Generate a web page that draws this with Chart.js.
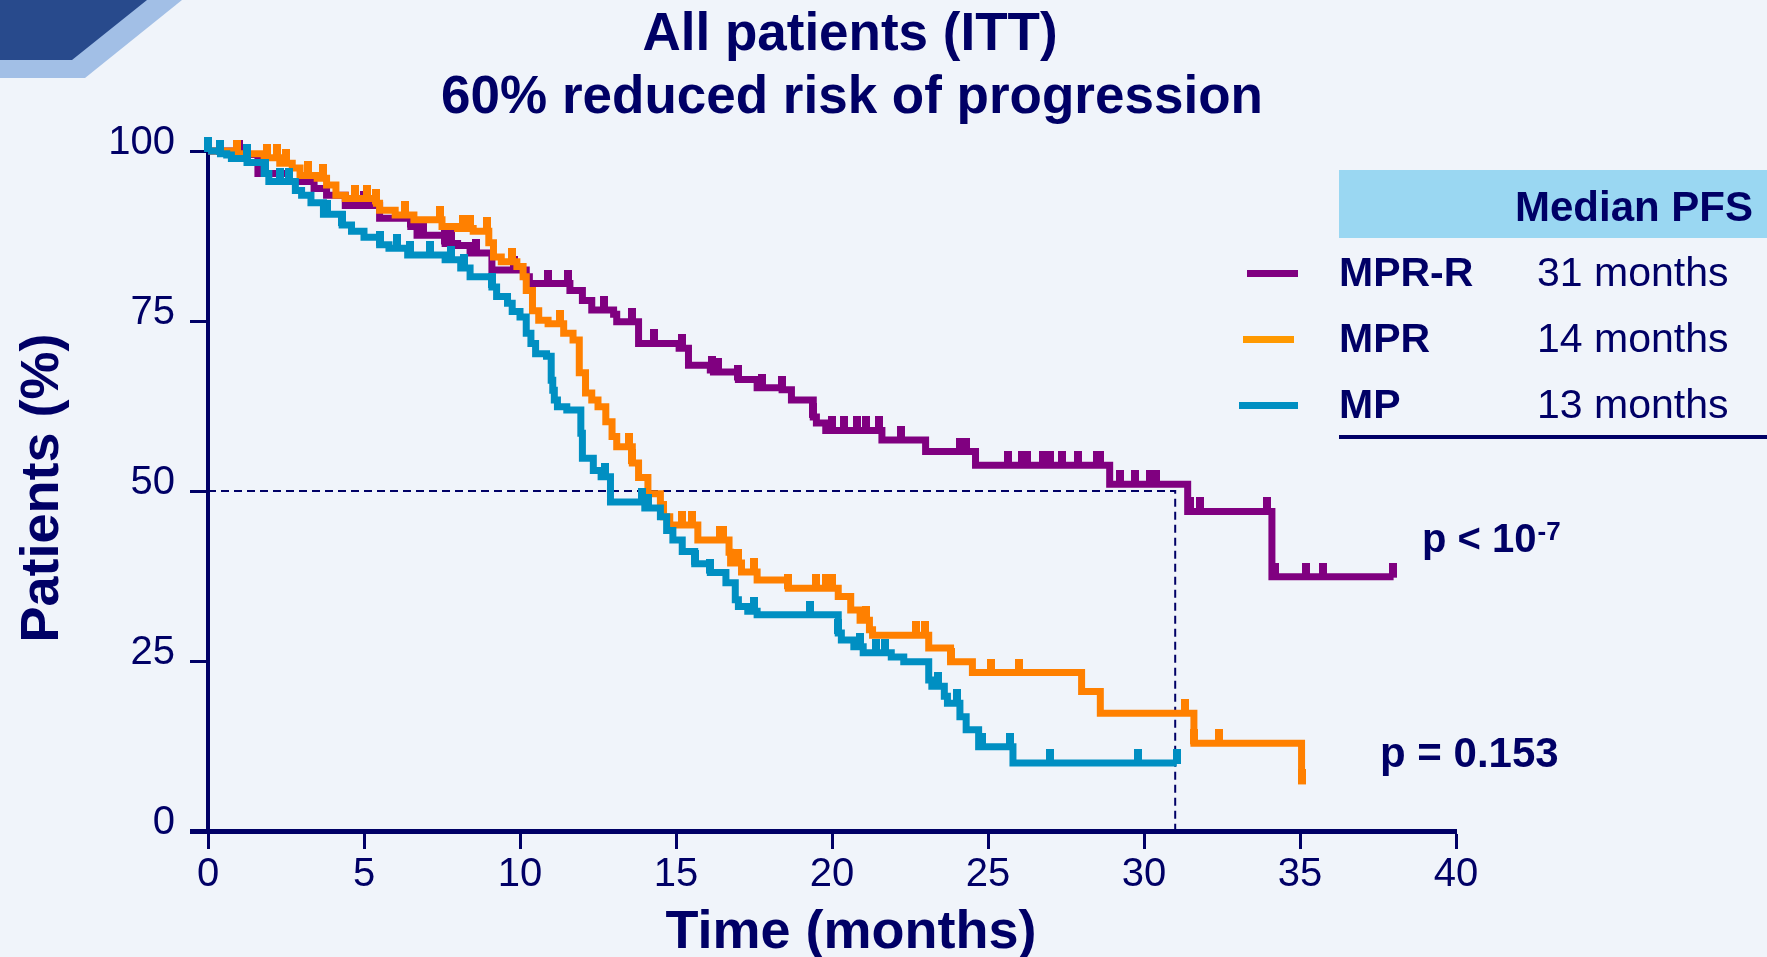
<!DOCTYPE html>
<html>
<head>
<meta charset="utf-8">
<script src="https://cdn.jsdelivr.net/npm/chart.js@4"></script>
<style>
html,body{margin:0;padding:0;background:#f0f4fa;}
#wrap{position:relative;width:1767px;height:957px;overflow:hidden;}
canvas{display:block;}
</style>
</head>
<body>
<div id="wrap"><canvas id="c" width="1767" height="957"></canvas></div>
<script>
// ---------------- DATA ----------------
const titleLines = ['All patients (ITT)', '60% reduced risk of progression'];
const xAxisTitle = 'Time (months)';
const yAxisTitle = 'Patients (%)';
const xTickValues = [0, 5, 10, 15, 20, 25, 30, 35, 40];
const yTickValues = [0, 25, 50, 75, 100];

const seriesNames = ['MPR-R', 'MPR', 'MP'];
const medianMonths = [31, 14, 13];
const legendHeader = 'Median PFS';
const pBase = ['p < 10', 'p = 0.153'];
const pSup = ['-7', ''];

// MPR-R (purple)
const mprrTimes = [0, 1.0, 1.6, 2.6, 3.4, 3.8, 4.4, 5.5, 6.5, 6.7, 7.6, 8.0, 8.4, 9.1, 10.2, 10.3, 11.6, 12.0, 12.3, 13.0, 13.1, 13.8, 15.1, 15.4, 16.1, 16.2, 17.0, 17.6, 18.4, 18.7, 19.4, 19.5, 19.8, 21.6, 23.0, 24.6, 28.9, 31.4, 34.1, 38.0];
const mprrSurv  = [100, 99.5, 96.7, 95.5, 94.5, 93.5, 92.0, 90.1, 88.9, 87.6, 86.4, 86.1, 85.0, 82.5, 81.5, 80.5, 79.5, 78.0, 76.6, 76.0, 74.9, 71.7, 71.0, 68.5, 67.8, 67.5, 66.4, 65.2, 64.9, 63.4, 60.9, 60.0, 58.9, 57.5, 55.8, 53.8, 51.0, 47.0, 37.4, 37.4];
const mprrCensor = [1.0, 5.0, 6.5, 6.9, 7.6, 7.8, 8.6, 9.8, 10.9, 11.55, 12.7, 13.6, 14.3, 15.2, 16.15, 16.35, 17.0, 17.75, 18.4, 19.4, 20.0, 20.4, 20.8, 21.1, 21.5, 22.2, 24.1, 24.3, 25.65, 26.08, 26.24, 26.77, 26.99, 27.36, 27.9, 28.48, 28.59, 29.23, 29.71, 30.19, 30.4, 31.47, 31.79, 33.93, 34.2, 35.2, 35.75, 37.99];

// MPR (orange)
const mprTimes = [0, 0.9, 1.8, 2.3, 2.7, 2.95, 3.5, 3.8, 4.1, 4.4, 5.4, 5.5, 6.0, 6.6, 7.5, 8.0, 8.5, 9.0, 9.15, 9.4, 9.9, 10.1, 10.2, 10.4, 10.6, 10.9, 11.4, 11.7, 11.9, 12.1, 12.3, 12.5, 12.75, 12.95, 13.1, 13.6, 13.8, 14.1, 14.5, 14.6, 14.8, 15.7, 16.7, 16.75, 17.1, 17.6, 18.6, 20.2, 20.6, 20.9, 21.2, 21.3, 23.1, 23.8, 24.5, 28.0, 28.6, 31.6, 35.05];
const mprSurv  = [100, 99.6, 99.0, 98.2, 97.5, 96.4, 96.0, 95.0, 93.5, 93.0, 92.3, 91.3, 90.6, 89.9, 88.9, 88.6, 88.2, 86.5, 84.4, 83.7, 83.0, 81.5, 79.5, 76.5, 75.1, 74.6, 73.2, 72.2, 67.4, 64.4, 63.4, 62.4, 60.2, 58.0, 56.5, 54.1, 52.0, 49.6, 48.0, 46.2, 45.0, 42.8, 41.0, 39.4, 38.1, 36.9, 35.7, 34.5, 32.5, 31.0, 29.6, 28.8, 26.9, 24.9, 23.3, 20.5, 17.3, 12.9, 7.0];
const mprCensor = [0.92, 1.88, 2.2, 2.5, 3.2, 3.7, 4.7, 5.1, 5.4, 6.3, 7.43, 8.18, 8.4, 8.93, 9.73, 11.28, 13.5, 13.6, 15.2, 15.5, 16.4, 16.5, 17.0, 17.5, 18.6, 19.5, 19.8, 20.0, 21.1, 22.7, 22.98, 23.8, 25.1, 26.0, 31.3, 31.6, 32.4, 35.05];

// MP (blue)
const mpTimes = [0, 0.4, 0.6, 0.75, 1.25, 1.8, 1.95, 2.8, 3.0, 3.3, 3.7, 4.3, 4.6, 5.0, 5.5, 5.8, 6.4, 7.6, 8.1, 8.4, 9.1, 9.25, 9.6, 9.75, 10.0, 10.2, 10.35, 10.5, 10.85, 11.0, 11.05, 11.1, 11.2, 11.5, 11.95, 12.0, 12.35, 12.6, 12.9, 14.0, 14.5, 14.7, 14.9, 15.2, 15.6, 16.1, 16.6, 16.9, 17.0, 17.3, 17.6, 20.2, 20.3, 20.7, 21.0, 21.9, 22.3, 23.1, 23.2, 23.6, 23.7, 24.1, 24.3, 24.7, 25.8, 31.05];
const mpSurv  = [100, 99.6, 99.4, 98.9, 98.3, 96.7, 95.5, 94.2, 93.5, 92.4, 90.7, 89.1, 88.2, 87.3, 86.2, 85.7, 84.7, 84.0, 82.8, 81.5, 80.0, 78.6, 77.6, 76.4, 75.6, 73.2, 71.7, 70.2, 69.8, 66.3, 64.8, 63.4, 62.4, 61.9, 58.5, 54.8, 53.0, 52.1, 48.4, 47.5, 46.2, 44.2, 42.8, 41.1, 39.3, 38.0, 36.5, 34.0, 33.0, 32.3, 31.8, 29.1, 28.1, 27.1, 26.2, 25.6, 24.9, 22.2, 21.3, 19.8, 18.8, 16.8, 14.9, 12.4, 10.0, 10.0];
const mpCensor = [0, 0.4, 1.24, 1.83, 2.3, 2.6, 3.8, 4.3, 5.5, 6.05, 6.47, 7.1, 7.8, 8.2, 9.1, 12.74, 13.9, 14.1, 15.6, 16.1, 17.5, 19.3, 20.2, 20.9, 21.4, 21.7, 23.4, 24.0, 24.8, 25.7, 27.0, 29.8, 31.05];

// ---------------- STYLE ----------------
const NAVY = '#000066';
const BG = '#f0f4fa';
const FONT = '"Liberation Sans", Arial, Helvetica, sans-serif';
const colors = ['#800080', '#ff8000', '#008fc2'];
const legendColors = ['#800080', '#ff9900', '#008fc2'];

function stepValue(times, surv, t) {
  let v = surv[0];
  for (let i = 0; i < times.length; i++) {
    if (times[i] <= t + 1e-9) v = surv[i]; else break;
  }
  return v;
}
function censorImg(color) {
  const c = document.createElement('canvas');
  c.width = 8; c.height = 28;
  const g = c.getContext('2d');
  g.fillStyle = color;
  g.fillRect(0, 0, 8, 15);
  return c;
}
function lineDs(label, times, surv, color, order) {
  return {
    label, data: times.map((t, i) => ({x: t, y: surv[i]})),
    showLine: true, stepped: 'before', borderColor: color, backgroundColor: color,
    borderWidth: 7, pointRadius: 0, pointHoverRadius: 0, fill: false, clip: false,
    order, borderCapStyle: 'butt', borderJoinStyle: 'miter'
  };
}
function censorDs(label, times, surv, ctimes, color, order) {
  return {
    label: label + ' censored', data: ctimes.map(t => ({x: t, y: stepValue(times, surv, t)})),
    showLine: false, pointStyle: censorImg(color), pointRadius: 4, pointHoverRadius: 4,
    clip: false, order, backgroundColor: color, borderColor: color
  };
}

const medianGuide = {
  label: 'median', data: [{x: 0, y: 50}, {x: medianMonths[0], y: 50}, {x: medianMonths[0], y: 0}],
  showLine: true, borderColor: NAVY, borderWidth: 2, borderDash: [8, 5], pointRadius: 0,
  fill: false, clip: false, order: 9
};

const decoPlugin = {
  id: 'deco',
  beforeDraw(chart) {
    const ctx = chart.ctx;
    ctx.save();
    ctx.fillStyle = BG;
    ctx.fillRect(0, 0, chart.width, chart.height);
    ctx.fillStyle = '#a2bfe6';
    ctx.beginPath(); ctx.moveTo(0, 0); ctx.lineTo(182, 0); ctx.lineTo(85, 78); ctx.lineTo(0, 78); ctx.closePath(); ctx.fill();
    ctx.fillStyle = '#284a8c';
    ctx.beginPath(); ctx.moveTo(0, 0); ctx.lineTo(147, 0); ctx.lineTo(72, 60); ctx.lineTo(0, 60); ctx.closePath(); ctx.fill();
    ctx.restore();
  },
  afterDraw(chart) {
    const ctx = chart.ctx;
    ctx.save();
    ctx.fillStyle = NAVY;
    ctx.textBaseline = 'alphabetic';
    // title
    ctx.font = 'bold 53px ' + FONT;
    ctx.textAlign = 'center';
    ctx.fillText(titleLines[0], 850, 50);
    ctx.fillText(titleLines[1], 852, 113);
    // axis titles
    ctx.font = 'bold 54px ' + FONT;
    ctx.fillText(xAxisTitle, 851, 948);
    ctx.save();
    ctx.translate(43, 488);
    ctx.rotate(-Math.PI / 2);
    ctx.textBaseline = 'middle';
    ctx.fillText(yAxisTitle, 0, 0);
    ctx.restore();
    // legend table
    ctx.fillStyle = '#9ad7f2';
    ctx.fillRect(1339, 170, 1767 - 1339, 68);
    ctx.fillStyle = NAVY;
    ctx.textAlign = 'left';
    ctx.font = 'bold 42px ' + FONT;
    ctx.fillText(legendHeader, 1515, 221);
    const rowBase = [286, 352, 418];
    const sampleX = [[1247, 1298], [1243, 1294], [1239, 1298]];
    for (let i = 0; i < seriesNames.length; i++) {
      ctx.fillStyle = legendColors[i];
      ctx.fillRect(sampleX[i][0], rowBase[i] - 16, sampleX[i][1] - sampleX[i][0], 7);
      ctx.fillStyle = NAVY;
      ctx.font = 'bold 41px ' + FONT;
      ctx.fillText(seriesNames[i], 1339, rowBase[i]);
      ctx.font = '41px ' + FONT;
      ctx.fillText(medianMonths[i] + ' months', 1537, rowBase[i]);
    }
    ctx.fillRect(1339, 435, 1767 - 1339, 4);
    // p values
    ctx.font = 'bold 40px ' + FONT;
    ctx.fillText(pBase[0], 1422, 552);
    const w0 = ctx.measureText(pBase[0]).width;
    ctx.font = 'bold 26px ' + FONT;
    ctx.fillText(pSup[0], 1422 + w0 + 1, 540);
    ctx.font = 'bold 42px ' + FONT;
    ctx.fillText(pBase[1], 1380, 767);
    ctx.restore();
  }
};

const chart = new Chart(document.getElementById('c'), {
  type: 'scatter',
  data: {
    datasets: [
      lineDs('MP', mpTimes, mpSurv, colors[2], 1),
      censorDs('MP', mpTimes, mpSurv, mpCensor, colors[2], 1),
      lineDs('MPR', mprTimes, mprSurv, colors[1], 2),
      censorDs('MPR', mprTimes, mprSurv, mprCensor, colors[1], 2),
      lineDs('MPR-R', mprrTimes, mprrSurv, colors[0], 3),
      censorDs('MPR-R', mprrTimes, mprrSurv, mprrCensor, colors[0], 3),
      medianGuide
    ]
  },
  options: {
    responsive: false,
    animation: false,
    events: [],
    layout: {padding: {top: 151, right: 311, left: 0, bottom: 0}},
    plugins: {legend: {display: false}, tooltip: {enabled: false}, title: {display: false}},
    scales: {
      x: {
        type: 'linear', min: 0, max: 40,
        afterFit(s) { s.height = 126; },
        afterBuildTicks(s) { s.ticks = xTickValues.map(v => ({value: v})); },
        border: {display: true, color: NAVY, width: 5},
        grid: {display: true, drawOnChartArea: false, drawTicks: true, tickLength: 18, tickWidth: 3, tickColor: NAVY},
        ticks: {color: NAVY, font: {family: FONT, size: 40}, padding: 2, maxRotation: 0, autoSkip: false}
      },
      y: {
        type: 'linear', min: 0, max: 100,
        afterFit(s) { s.width = 208; },
        afterBuildTicks(s) { s.ticks = yTickValues.map(v => ({value: v})); },
        border: {display: true, color: NAVY, width: 4},
        grid: {display: true, drawOnChartArea: false, drawTicks: true, tickLength: 18,
               tickWidth: (c) => (c.tick && c.tick.value === 0 ? 5 : 3), tickColor: NAVY},
        ticks: {color: NAVY, font: {family: FONT, size: 40}, padding: 15, labelOffset: -8, autoSkip: false}
      }
    }
  },
  plugins: [decoPlugin]
});
</script>
</body>
</html>
